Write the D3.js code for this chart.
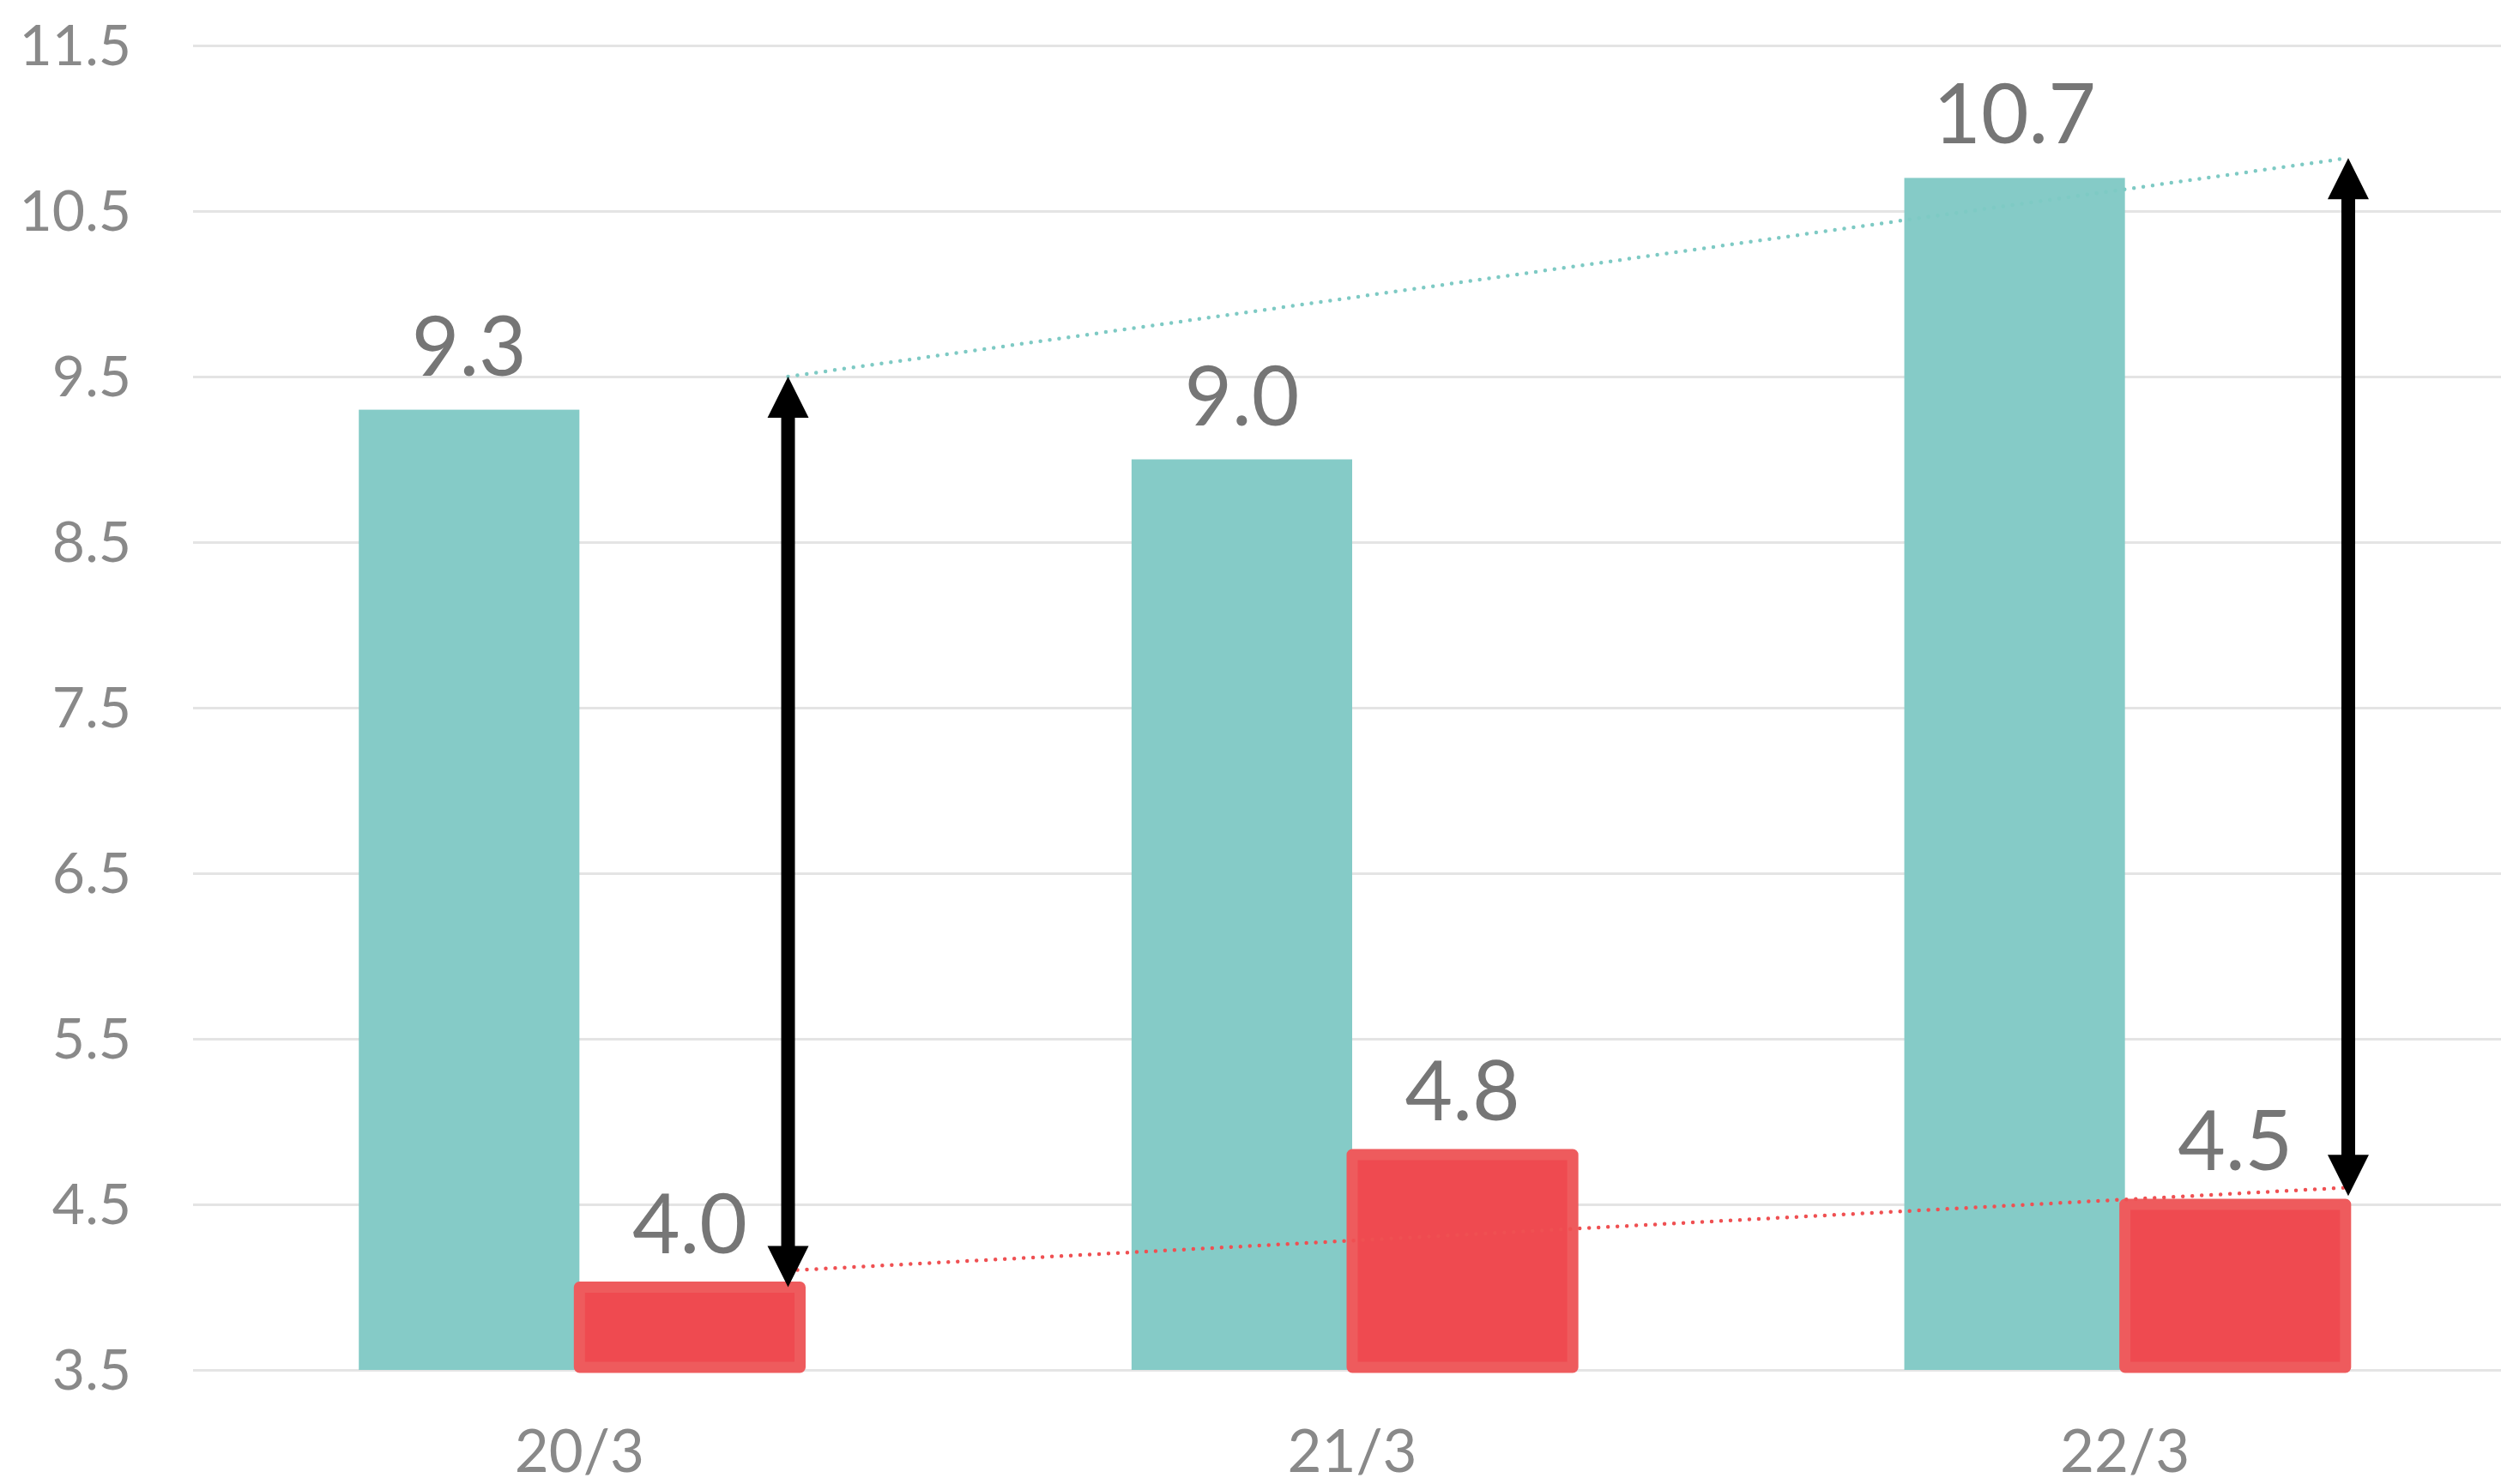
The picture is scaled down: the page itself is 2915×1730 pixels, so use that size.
<!DOCTYPE html>
<html>
<head>
<meta charset="utf-8">
<script src="https://cdn.jsdelivr.net/npm/d3@7"></script>
<style>
  html, body { margin: 0; padding: 0; background: #ffffff; }
  svg { display: block; }
  text { font-family: Lato, "Open Sans", "Noto Sans", sans-serif; }
</style>
</head>
<body>
<script>
// ---------------- data ----------------
const categories = ["20/3", "21/3", "22/3"];
const seriesNames = ["teal", "red"];
const tealValues = [9.3, 9.0, 10.7];
const redValues = [4.0, 4.8, 4.5];
const yTicks = [3.5, 4.5, 5.5, 6.5, 7.5, 8.5, 9.5, 10.5, 11.5];

// annotation arrows: position in category-index units, value endpoints
const arrowPos = [0.27, 2.289];
const arrowFrom = [4.0, 4.55];
const arrowTo = [9.5, 10.82];
// dotted trend annotations: [x in category-index units, value]
const tealTrend = [[0.27, 9.5], [2.281, 10.815]];
const redTrend = [[0.27, 4.1], [2.284, 4.6]];

// ---------------- layout ----------------
const W = 2915, H = 1730;
const plotLeft = 225, plotRight = 2927, gridRight = 2915;
const yBottom = 1597, yTop = 53;

const svg = d3.select("body").append("svg")
  .attr("width", W).attr("height", H).attr("viewBox", `0 0 ${W} ${H}`);

const x = d3.scaleBand().domain(categories).range([plotLeft, plotRight]).padding(0);
const xc = d3.scaleLinear().domain([-0.5, categories.length - 0.5]).range([plotLeft, plotRight]);
const y = d3.scaleLinear().domain([3.5, 11.5]).range([yBottom, yTop]);

const bw = x.bandwidth();
const barW = bw * 0.2855;
const xs = d3.scaleBand().domain(seriesNames).range([bw / 2 - barW, bw / 2 + barW]).padding(0);

// grid
const grid = svg.append("g")
  .attr("transform", `translate(${plotLeft},0)`)
  .call(d3.axisLeft(y).tickValues(yTicks).tickSize(-(gridRight - plotLeft)).tickFormat(""));
grid.select(".domain").remove();
grid.selectAll(".tick line").attr("stroke", "#e4e4e4").attr("stroke-width", 3);

// y labels
const yAx = svg.append("g")
  .attr("transform", `translate(153,0)`)
  .call(d3.axisLeft(y).tickValues(yTicks).tickSize(0).tickPadding(0).tickFormat(d3.format(".1f")));
yAx.select(".domain").remove();
yAx.selectAll(".tick text")
  .attr("font-family", "Lato, 'Open Sans', sans-serif")
  .attr("font-size", 66)
  .attr("fill", "#898989")
  .attr("dy", "0.34em");

// teal bars
svg.append("g").selectAll("rect")
  .data(categories.map((c, i) => ({ c, v: tealValues[i] })))
  .join("rect")
  .attr("x", d => x(d.c) + xs("teal"))
  .attr("y", d => y(d.v))
  .attr("width", xs.bandwidth())
  .attr("height", d => y(3.5) - y(d.v))
  .attr("fill", "#85cbc7");

// red bars
svg.append("g").selectAll("rect")
  .data(categories.map((c, i) => ({ c, v: redValues[i] })))
  .join("rect")
  .attr("x", d => x(d.c) + xs("red"))
  .attr("y", d => y(d.v))
  .attr("width", xs.bandwidth())
  .attr("height", d => y(3.5) - y(d.v) - 3)
  .attr("fill", "#ef4a50")
  .attr("stroke", "#ee5b5d")
  .attr("stroke-width", 13)
  .attr("stroke-linejoin", "round");

// value labels
const labelData = [];
categories.forEach((c, i) => {
  labelData.push({ c, s: "teal", v: tealValues[i] });
  labelData.push({ c, s: "red", v: redValues[i] });
});
svg.append("g").selectAll("text")
  .data(labelData)
  .join("text")
  .attr("x", d => x(d.c) + xs(d.s) + xs.bandwidth() / 2)
  .attr("y", d => y(d.v) - 40)
  .attr("text-anchor", "middle")
  .attr("font-size", 96)
  .attr("fill", "#767676")
  .text(d => d3.format(".1f")(d.v));

// category labels
svg.append("g").selectAll("text")
  .data(categories)
  .join("text")
  .attr("x", d => x(d) + bw / 2)
  .attr("y", 1716)
  .attr("text-anchor", "middle")
  .attr("font-size", 69)
  .attr("fill", "#898989")
  .text(d => d);

// dotted trend lines
const line = d3.line().x(d => xc(d[0])).y(d => y(d[1]));
svg.append("path").attr("d", line(tealTrend))
  .attr("fill", "none").attr("stroke", "#7ecac4").attr("stroke-width", 4.5)
  .attr("stroke-linecap", "round").attr("stroke-dasharray", "0 11");
svg.append("path").attr("d", line(redTrend))
  .attr("fill", "none").attr("stroke", "#ef5052").attr("stroke-width", 4.5)
  .attr("stroke-linecap", "round").attr("stroke-dasharray", "0 11");

// double-headed arrows
const headW = 48, headL = 48, shaftW = 16;
svg.append("g").selectAll("path")
  .data(arrowPos.map((p, i) => ({ p, a: arrowFrom[i], b: arrowTo[i] })))
  .join("path")
  .attr("d", d => {
    const cx = xc(d.p), yb = y(d.a), yt = y(d.b);
    const p = d3.path();
    p.moveTo(cx, yt);
    p.lineTo(cx + headW / 2, yt + headL);
    p.lineTo(cx + shaftW / 2, yt + headL);
    p.lineTo(cx + shaftW / 2, yb - headL);
    p.lineTo(cx + headW / 2, yb - headL);
    p.lineTo(cx, yb);
    p.lineTo(cx - headW / 2, yb - headL);
    p.lineTo(cx - shaftW / 2, yb - headL);
    p.lineTo(cx - shaftW / 2, yt + headL);
    p.lineTo(cx - headW / 2, yt + headL);
    p.closePath();
    return p.toString();
  })
  .attr("fill", "#000000");
</script>
</body>
</html>
